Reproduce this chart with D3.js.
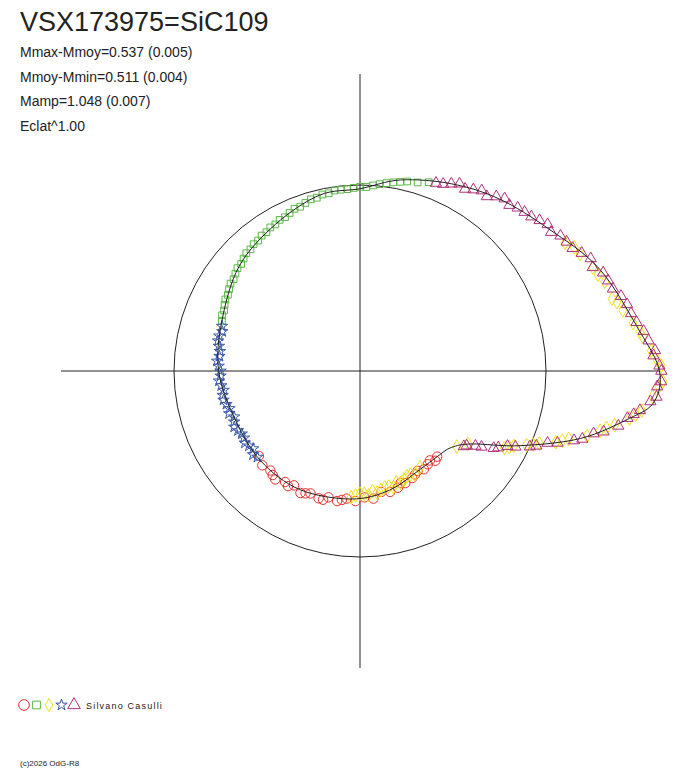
<!DOCTYPE html>
<html><head><meta charset="utf-8">
<script src="https://cdn.jsdelivr.net/npm/d3@7"></script>
<style>body{margin:0;background:#fff}text{font-family:"Liberation Sans",Arial,sans-serif;fill:#222}</style>
</head><body><svg width="688" height="768"></svg>
<script>
// polar light curve: [angle deg (math), radius in units of the reference circle]
const fitCurve = [[90,.98],[78,1.05],[64,1.12],[51,1.19],[37,1.27],[23,1.40],[8,1.52],[0,1.61],[-6,1.59],[-10,1.47],[-17,1.24],[-25,.95],[-33,.72],[-40,.64],[-48,.62],[-59,.62],[-76,.66],[-94,.69],[-117,.715],[-138,.72],[-159,.72],[180,.76],[160,.79],[139,.86],[120,.91],[103,.97]];
const red = [[-48,.62],[-50,.63],[-52,.61],[-54,.62],[-57,.63],[-60,.62],[-62,.63],[-64,.64],[-68,.65],[-70,.64],[-72,.66],[-76,.67],[-80,.66],[-84,.69],[-88,.68],[-92,.70],[-96,.69],[-98,.70],[-100,.71],[-104,.70],[-106,.72],[-108,.72],[-112,.71],[-114,.72],[-116,.73],[-120,.71],[-122,.73],[-124,.72],[-128,.74],[-130,.73],[-132,.72],[-136,.73],[-140,.71]];
const yellow = [[-58,.61],[-62,.63],[-64,.62],[-66,.62],[-68,.63],[-70,.64],[-72,.63],[-74,.65],[-76,.64],[-78,.64],[-80,.65],[-82,.66],[-84,.65],[-86,.67],[-88,.66],[-90,.66],[-92,.67],[-94,.68],[-38,.66],[-34,.70],[-28,.88],[-27,.90],[-26,.92],[-24,.98],[-23,1.01],[-22,1.04],[-20,1.12],[-19,1.15],[-18,1.18],[-16,1.27],[-14,1.33],[-13,1.36],[-12,1.40],[-10,1.47],[-9,1.50],[-8,1.53],[-5,1.58],[-3,1.61],[-2,1.63],[1,1.62],[2,1.60],[4,1.57],[7,1.53],[8,1.52],[10,1.49],[13,1.45],[15,1.43],[16,1.41],[20,1.40],[22,1.38],[24,1.37],[28,1.34],[30,1.33],[32,1.30]];
const blue = [[-140,.72],[-142,.73],[-144,.71],[-146,.72],[-148,.73],[-150,.72],[-152,.72],[-154,.73],[-156,.74],[-158,.73],[-160,.72],[-162,.74],[-164,.73],[-166,.74],[-168,.75],[-170,.75],[-172,.74],[-174,.75],[-176,.76],[-178,.75],[180,.75],[178,.76],[176,.77],[174,.76],[172,.76],[170,.77],[168,.78],[166,.78],[164,.77],[162,.78]];
const green = [[160,.79],[158,.80],[156,.80],[154,.81],[152,.82],[150,.82],[148,.83],[146,.84],[144,.84],[142,.85],[140,.86],[138,.86],[136,.87],[134,.88],[132,.88],[130,.89],[128,.89],[126,.90],[124,.90],[122,.91],[120,.91],[118,.92],[116,.92],[114,.93],[112,.94],[110,.94],[108,.95],[106,.96],[104,.96],[102,.97],[100,.97],[98,.98],[96,.98],[94,.98],[92,.985],[90,.99],[88,.99],[86,1.00],[84,1.01],[82,1.02],[80,1.03],[78,1.04],[76,1.05],[73,1.06],[70,1.08]];
const magenta = [[68,1.09],[66,1.10],[64,1.12],[62,1.14],[60,1.13],[58,1.15],[56,1.17],[54,1.16],[52,1.19],[50,1.21],[48,1.20],[46,1.22],[44,1.23],[42,1.24],[40,1.26],[38,1.28],[36,1.27],[34,1.30],[32,1.31],[30,1.32],[28,1.35],[26,1.38],[24,1.37],[22,1.41],[20,1.42],[18,1.43],[16,1.46],[14,1.48],[12,1.49],[10,1.51],[8,1.54],[6,1.56],[4,1.59],[3,1.58],[1,1.61],[0,1.62],[-2,1.62],[-3,1.60],[-5,1.60],[-6,1.57],[-8,1.52],[-9,1.49],[-10,1.46],[-12,1.42],[-14,1.35],[-15,1.30],[-17,1.25],[-18,1.21],[-20,1.13],[-21,1.08],[-23,1.03],[-24,1.00],[-26,.93],[-27,.89],[-29,.85],[-30,.83],[-32,.77],[-33,.74],[-35,.70],[-36,.69]];
const infoLines = ["Mmax-Mmoy=0.537 (0.005)","Mmoy-Mmin=0.511 (0.004)","Mamp=1.048 (0.007)","Eclat^1.00"];

const svg = d3.select("svg");
const cx = 360, cy = 371;
const rScale = d3.scaleLinear().domain([0,1]).range([0,186]);
const px = d => cx + rScale(d[1]) * Math.cos(d[0]*Math.PI/180);
const py = d => cy - rScale(d[1]) * Math.sin(d[0]*Math.PI/180);

svg.append("text").attr("x",20).attr("y",31).attr("font-size",27).text("VSX173975=SiC109");
svg.selectAll(".info").data(infoLines).enter().append("text")
  .attr("x",20).attr("y",(d,i)=>57+i*24.5).attr("font-size",14).text(d=>d);

svg.append("line").attr("x1",61).attr("x2",659).attr("y1",cy).attr("y2",cy).attr("stroke","#222");
svg.append("line").attr("x1",cx).attr("x2",cx).attr("y1",74).attr("y2",668).attr("stroke","#222");
svg.append("circle").attr("cx",cx).attr("cy",cy).attr("r",rScale(1)).attr("fill","none").attr("stroke","#222");

const series = [
  {data:red, color:"#e8302c", sym:d3.symbolCircle, size:70},
  {data:green, color:"#5cb848", sym:d3.symbolSquare, size:45},
  {data:blue, color:"#3a58a8", sym:d3.symbolStar, size:40},
  {data:yellow, color:"#f0e01c", sym:d3.symbolDiamond, size:55},
  {data:magenta, color:"#b0307c", sym:d3.symbolTriangle, size:55}
];
series.forEach(s => {
  svg.append("g").selectAll("path").data(s.data).enter().append("path")
    .attr("d", d3.symbol().type(s.sym).size(s.size))
    .attr("transform", d => `translate(${px(d)},${py(d)})`)
    .attr("fill","none").attr("stroke",s.color).attr("stroke-width",1);
});

svg.append("path").datum(fitCurve)
  .attr("d", d3.line().x(px).y(py).curve(d3.curveCardinalClosed))
  .attr("fill","none").attr("stroke","#222").attr("stroke-width",1);

// legend
const legend = [
  {color:"#e8302c", sym:d3.symbolCircle, size:90},
  {color:"#5cb848", sym:d3.symbolSquare, size:60},
  {color:"#f0e01c", sym:d3.symbolDiamond, size:50},
  {color:"#3a58a8", sym:d3.symbolStar, size:40},
  {color:"#b0307c", sym:d3.symbolTriangle, size:70}
];
svg.selectAll(".leg").data(legend).enter().append("path")
  .attr("d", d => d3.symbol().type(d.sym).size(d.size)())
  .attr("transform",(d,i)=>`translate(${24+i*12.5},705)`)
  .attr("fill","none").attr("stroke",d=>d.color);
svg.append("text").attr("x",86).attr("y",709).attr("font-size",9).attr("letter-spacing",1.2).text("Silvano Casulli");
svg.append("text").attr("x",20).attr("y",766).attr("font-size",8).text("(c)2026 OdG-R8");
</script></body></html>
